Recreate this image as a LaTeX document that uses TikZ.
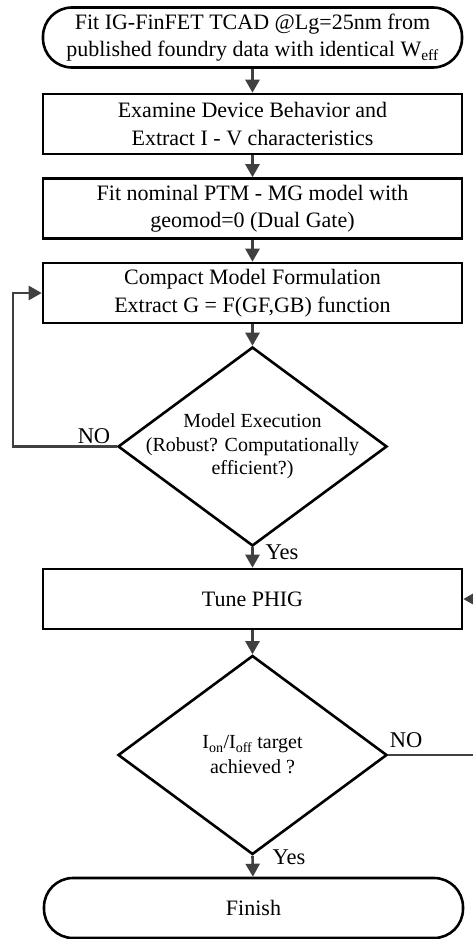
\documentclass[tikz,border=0pt]{standalone}
\usepackage{fontspec}
\setmainfont{Liberation Serif}
\usetikzlibrary{arrows.meta,shapes.geometric}
\tikzset{
  box/.style={draw=black, line width=2.6pt, minimum width=419pt, minimum height=60pt,
    inner sep=0pt, align=center, font=\fontsize{22}{27.5}\selectfont},
  term/.style={box, rounded corners=29pt},
  decision/.style={draw=black, line width=2.6pt, diamond, minimum width=269pt,
    minimum height=199pt, inner sep=0pt},
  dtext/.style={align=center, font=\fontsize{20}{23.5}\selectfont},
  flow/.style={draw=black!75, line width=2.6pt,
    -{Triangle[length=13pt,width=14pt]}},
  lbl/.style={font=\fontsize{22.5}{24}\selectfont, inner sep=0pt}
}
\begin{document}
\begin{tikzpicture}[x=1pt,y=-1pt]
\useasboundingbox (0,0) rectangle (473,939);

% process chain
\node[term] (fit) at (252.5,37.5) {Fit IG-FinFET TCAD @Lg=25nm from\\published foundry data with identical W\textsubscript{eff}};
\node[box] (exam) at (252.5,124) {Examine Device Behavior and\\Extract I - V characteristics};
\node[box] (ptm) at (252.5,208.5) {Fit nominal PTM - MG model with\\geomod=0 (Dual Gate)};
\node[box] (cmf) at (252.5,293) {Compact Model Formulation\\Extract G = F(GF,GB) function};
\node[decision] (exec) at (252.5,446.5) {};
\node[dtext] (exect) at (252.5,446.5) {Model Execution\\(Robust? Computationally\\efficient?)};
\node[box] (tune) at (252.5,599) {Tune PHIG};
\node[decision] (tgt) at (252.5,755) {};
\node[dtext, font=\fontsize{20}{25}\selectfont] (tgtt) at (252.5,755) {I\textsubscript{on}/I\textsubscript{off} target\\achieved ?};
\node[term] (fin) at (253.5,908) {Finish};

% straight arrows
\draw[flow] (fit) -- (exam);
\draw[flow] (exam) -- (ptm);
\draw[flow] (ptm) -- (cmf);
\draw[flow] (cmf) -- (exec.north);
\draw[flow] (exec.south) -- (tune);
\draw[flow] (tune) -- (tgt.north);
\draw[flow] (tgt.south) -- (fin);

% feedback loops
\coordinate (lback) at (13,446.5);
\draw[flow] (exec.west) -- (lback) |- (cmf.west);
\coordinate (rback) at (500,755);
\draw[flow] (tgt.east) -- (rback) |- (tune.east);

% branch labels
\node[lbl] (no1) at (94,436) {NO};
\node[lbl] (yes1) at (282,552) {Yes};
\node[lbl] (no2) at (406,740) {NO};
\node[lbl] (yes2) at (289,857) {Yes};
\end{tikzpicture}
\end{document}
